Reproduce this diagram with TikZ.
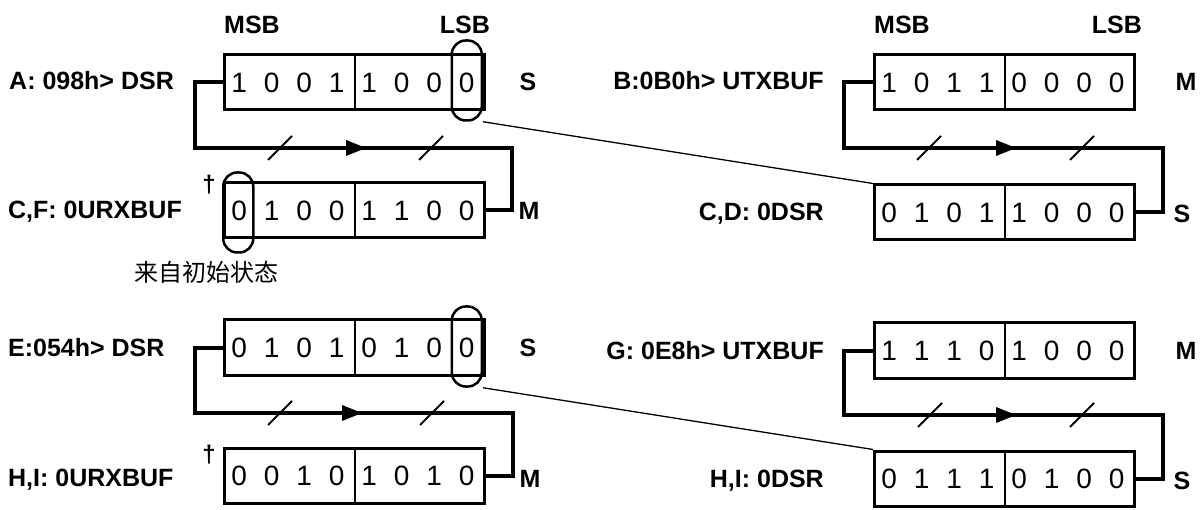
\documentclass[tikz,border=0pt]{standalone}
\usepackage{fontspec}
\setmainfont{Liberation Sans}
\newfontfamily\cjk{Noto Sans CJK SC}
\usetikzlibrary{calc}

\tikzset{
  reg/.style={draw, line width=3pt, minimum width=260pt, minimum height=55pt, inner sep=0pt},
  bit/.style={font=\fontsize{28}{28}\selectfont, inner sep=0pt, text height=20pt, text depth=0pt},
  lbl/.style={font=\bfseries\fontsize{25}{25}\selectfont, inner sep=0pt, text height=18pt, text depth=0pt},
  wire/.style={line width=4pt},
  tickmark/.style={line width=2pt},
  oval/.style={draw, line width=2.5pt, rounded corners=14pt, minimum width=30pt, minimum height=80pt, inner sep=0pt},
  thinline/.style={line width=1.3pt},
  divider/.style={line width=2pt},
  dag/.style={font=\bfseries\fontsize{24}{24}\selectfont, inner sep=0pt},
  cjklbl/.style={font=\cjk\fontsize{24}{24}\selectfont, inner sep=0pt},
}

\newcommand\regbits[4]{%
  \node[reg] (#1) at (#2,#3) {};
  \draw[divider] (#1.north) -- (#1.south);
  \foreach \b [count=\i] in {#4} {
    \node[bit] (#1-\i) at ($(#1.west)+(\i*32.5-16.25,0)$) {\b};
  }
}
\newcommand\flowarrow[1]{\fill (#1) -- ++(-20,-8) -- ++(0,16) -- cycle;}
\newcommand\slashmark[1]{\draw[tickmark] ($(#1)+(-12,12)$) -- ($(#1)+(12,-12)$);}

\begin{document}
\begin{tikzpicture}[x=1pt,y=-1pt]
\useasboundingbox (0,0) rectangle (1201,510);

% ---------- top left ----------
\node[lbl, anchor=west] (msbA) at (224,25) {MSB};
\node[lbl, anchor=east] (lsbA) at (490,25) {LSB};
\regbits{A}{354.5}{82.5}{1,0,0,1,1,0,0,0}
\regbits{CF}{354.5}{210.5}{0,1,0,0,1,1,0,0}
\node[lbl, anchor=west] (lA) at (9,81) {A: 098h> DSR};
\node[lbl, anchor=west] (lCF) at (8,210) {C,F: 0URXBUF};
\node[lbl] (sA) at (528,82) {S};
\node[lbl] (mCF) at (529,211) {M};
\node[dag] (dagA) at (209,185) {†};
\node[oval] (ovA) at ($(A-8)+(0,-2)$) {};
\node[oval] (ovCF) at ($(CF-1)+(-1,2)$) {};
\node[cjklbl, anchor=west] (init) at (134,272) {来自初始状态};
\coordinate (turnA) at (512,148);
\draw[wire] (A.west) -- ++(-28,0) |- (turnA) |- (CF.east);
\coordinate (arA) at (366,148);
\flowarrow{arA}
\coordinate (s1) at (280,148);
\coordinate (s2) at (431,148);
\slashmark{s1}
\slashmark{s2}

% ---------- top right ----------
\node[lbl, anchor=west] (msbB) at (874,25) {MSB};
\node[lbl, anchor=east] (lsbB) at (1142,25) {LSB};
\regbits{B}{1004.5}{82.5}{1,0,1,1,0,0,0,0}
\regbits{CD}{1004.5}{212.5}{0,1,0,1,1,0,0,0}
\node[lbl, anchor=east] (lB) at (824,81) {B:0B0h> UTXBUF};
\node[lbl, anchor=east] (lCD) at (824,212) {C,D: 0DSR};
\node[lbl] (mB) at (1186,82) {M};
\node[lbl] (sCD) at (1182,214) {S};
\coordinate (turnB) at (1163,148);
\draw[wire] (B.west) -- ++(-29,0) |- (turnB) |- (CD.east);
\coordinate (arB) at (1016,148);
\flowarrow{arB}
\coordinate (s3) at (929,148);
\coordinate (s4) at (1082,148);
\slashmark{s3}
\slashmark{s4}
\draw[thinline] (ovA.south east) -- (CD.north west);

% ---------- bottom left ----------
\regbits{E}{354.5}{347.5}{0,1,0,1,0,1,0,0}
\regbits{HL}{354.5}{475.5}{0,0,1,0,1,0,1,0}
\node[lbl, anchor=west] (lE) at (8,347) {E:054h> DSR};
\node[lbl, anchor=west] (lHL) at (8,477) {H,I: 0URXBUF};
\node[lbl] (sE) at (528,347) {S};
\node[lbl] (mHL) at (530,478) {M};
\node[dag] (dagE) at (209,455) {†};
\node[oval] (ovE) at ($(E-8)+(0,-1)$) {};
\coordinate (turnE) at (513,413);
\draw[wire] (E.west) -- ++(-28,0) |- (turnE) |- (HL.east);
\coordinate (arE) at (362,413);
\flowarrow{arE}
\coordinate (s5) at (280,413);
\coordinate (s6) at (432,413);
\slashmark{s5}
\slashmark{s6}

% ---------- bottom right ----------
\regbits{G}{1004.5}{350.5}{1,1,1,0,1,0,0,0}
\regbits{HR}{1004.5}{478.5}{0,1,1,1,0,1,0,0}
\node[lbl, anchor=east] (lG) at (824,350) {G: 0E8h> UTXBUF};
\node[lbl, anchor=east] (lHR) at (824,478) {H,I: 0DSR};
\node[lbl] (mG) at (1186,350) {M};
\node[lbl] (sHR) at (1182,480) {S};
\coordinate (turnG) at (1163,415);
\draw[wire] (G.west) -- ++(-29,0) |- (turnG) |- (HR.east);
\coordinate (arG) at (1016,415);
\flowarrow{arG}
\coordinate (s7) at (930,415);
\coordinate (s8) at (1082,415);
\slashmark{s7}
\slashmark{s8}
\draw[thinline] (ovE.south east) -- (HR.north west);
\end{tikzpicture}
\end{document}
